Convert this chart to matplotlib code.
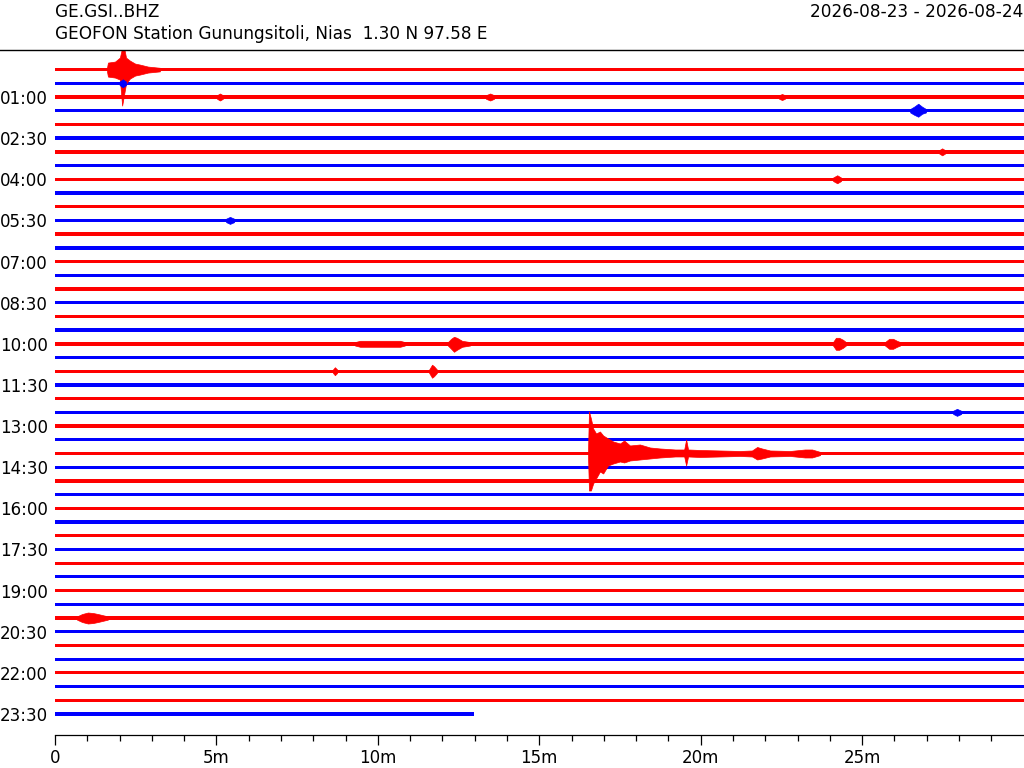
import matplotlib
matplotlib.use("Agg")
import matplotlib.pyplot as plt
from matplotlib.lines import Line2D
from matplotlib.ticker import FixedLocator, FixedFormatter

# ---------------- data ----------------
station = "GE.GSI..BHZ"
station_desc = "GEOFON Station Gunungsitoli, Nias  1.30 N 97.58 E"
date_range = "2026-08-23 - 2026-08-24"

n_rows = 48                 # 30-minute rows over one day
row_minutes = 30
last_row_end_min = 12.97    # data of last row ends here

row_colors = ["red", "blue"]  # alternating trace colours

x_major_ticks = [0, 5, 10, 15, 20, 25]
x_major_labels = ["0", "5m", "10m", "15m", "20m", "25m"]
x_minor_ticks = [1, 2, 3, 4, 6, 7, 8, 9, 11, 12, 13, 14, 16, 17, 18, 19,
                 21, 22, 23, 24, 26, 27, 28, 29]

label_rows = [2, 5, 8, 11, 14, 17, 20, 23, 26, 29, 32, 35, 38, 41, 44, 47]
hour_labels = ["01:00", "02:30", "04:00", "05:30", "07:00", "08:30", "10:00",
               "11:30", "13:00", "14:30", "16:00", "17:30", "19:00", "20:30",
               "22:00", "23:30"]

# background noise half-amplitude per row (pixel-equivalent counts)
noise_level = [1.8, 1.7, 1.8, 1.7, 1.7, 1.7, 1.7, 1.7, 1.7, 1.7, 1.7, 1.7,
               1.7, 1.7, 1.7, 1.7, 1.7, 1.7, 1.7, 1.7, 1.7, 1.7, 1.7, 1.7,
               1.6, 1.6, 1.6, 1.6, 1.6, 1.6, 1.6, 1.6, 1.6, 1.6, 1.6, 1.6,
               1.6, 1.6, 1.6, 1.6, 1.6, 1.6, 1.6, 1.6, 1.6, 1.6, 1.6, 1.6]

# event envelopes: row, times (min), upward and downward amplitudes
event_rows = [0, 1, 2, 2, 2, 3, 6, 8, 11, 20, 20, 20, 20, 22, 22, 25, 28, 40]
event_times = [
    [1.61, 1.64, 1.86, 2.01, 2.08, 2.14, 2.20, 2.32, 2.48, 2.63, 2.88, 3.25],
    [2.00, 2.10, 2.20],
    [5.02, 5.11, 5.20],
    [13.35, 13.48, 13.60],
    [22.43, 22.52, 22.61],
    [26.49, 26.61, 26.74, 26.86, 26.98],
    [27.39, 27.48, 27.57],
    [24.10, 24.23, 24.35],
    [5.30, 5.42, 5.55],
    [9.29, 9.45, 10.07, 10.69, 10.84],
    [12.17, 12.27, 12.36, 12.45, 12.61, 12.86],
    [24.10, 24.19, 24.29, 24.41, 24.50],
    [25.71, 25.84, 25.96, 26.08, 26.18],
    [8.61, 8.67, 8.74],
    [11.59, 11.68, 11.74, 11.83],
    [27.82, 27.94, 28.07],
    [16.51, 16.54, 16.60, 16.67, 16.76, 16.88, 16.98, 17.13, 17.29, 17.50,
     17.63, 17.81, 18.12, 18.43, 18.74, 19.21, 19.49, 19.55, 19.61, 19.98,
     20.60, 21.22, 21.59, 21.75, 21.90, 22.15, 22.77, 23.23, 23.45, 23.70],
    [0.68, 0.84, 1.02, 1.18, 1.33, 1.46, 1.64],
]
event_up = [
    [1.8, 7, 8, 12, 22, 22, 12, 9, 6, 5, 3, 1.8],
    [1.7, 4, 1.7],
    [1.8, 3.5, 1.8],
    [1.8, 3.5, 1.8],
    [1.8, 3, 1.8],
    [1.7, 4, 7, 4, 1.7],
    [1.7, 3.5, 1.7],
    [1.7, 4, 1.7],
    [1.7, 3.5, 1.7],
    [1.7, 3, 3, 3, 1.7],
    [1.7, 5, 7, 6, 3, 1.7],
    [1.7, 6, 6, 4, 1.7],
    [1.7, 5, 5, 3, 1.7],
    [1.7, 4, 1.7],
    [1.7, 6.5, 5, 1.7],
    [1.6, 3.5, 1.6],
    [1.6, 42, 35, 25, 20, 22, 18, 15, 12, 10, 13, 8, 9, 6, 5, 4, 4, 14, 4,
     3.5, 3, 2.5, 3, 6.5, 5, 3, 2.5, 4, 4, 1.6],
    [1.6, 4, 5.5, 5, 4, 3, 1.6],
]
event_down = [
    [1.8, 7, 8, 10, 36, 25, 14, 9, 6, 5, 3, 1.8],
    [1.7, 4, 1.7],
    [1.8, 3.5, 1.8],
    [1.8, 3.5, 1.8],
    [1.8, 3, 1.8],
    [1.7, 4, 6, 3, 1.7],
    [1.7, 3.5, 1.7],
    [1.7, 4, 1.7],
    [1.7, 3.5, 1.7],
    [1.7, 3, 3, 3, 1.7],
    [1.7, 5, 8, 6, 3, 1.7],
    [1.7, 6, 6, 4, 1.7],
    [1.7, 5, 5, 3, 1.7],
    [1.7, 4, 1.7],
    [1.7, 6.5, 5, 1.7],
    [1.6, 3.5, 1.6],
    [1.6, 37, 37, 30, 25, 18, 20, 12, 10, 8, 9, 7, 6, 5, 4, 3, 3, 12, 3,
     3.5, 3, 2.5, 3, 6, 5, 3, 2.5, 4, 4, 1.6],
    [1.6, 4, 5.5, 5, 4, 3, 1.6],
]

# ---------------- figure ----------------
W, H, DPI = 1024, 768, 100
fig = plt.figure(figsize=(W / DPI, H / DPI), dpi=DPI)

ax_left_px, ax_right_px = 55, 1023.5
ax_top_px, ax_bottom_px = 50, 735
ax = fig.add_axes([ax_left_px / W, 1 - ax_bottom_px / H,
                   (ax_right_px - ax_left_px) / W,
                   (ax_bottom_px - ax_top_px) / H])

ROW_PX = 13.711            # pixel spacing between rows
row0_px = 69.58            # centre of first row
y_top = -(row0_px - ax_top_px) / ROW_PX
y_bottom = (ax_bottom_px - row0_px) / ROW_PX

def amp(v):
    return v / ROW_PX

for r in range(n_rows):
    col = row_colors[r % 2]
    end = last_row_end_min if r == n_rows - 1 else row_minutes
    n = amp(noise_level[r])
    ax.fill_between([0, end], [r - n, r - n], [r + n, r + n],
                    color=col, lw=0)

for er, et, eu, ed in zip(event_rows, event_times, event_up, event_down):
    col = row_colors[er % 2]
    lo = [er - amp(u) for u in eu]
    hi = [er + amp(d) for d in ed]
    ax.fill_between(et, lo, hi, color=col, lw=0.5, edgecolor=col)

ax.set_xlim(0, row_minutes)
ax.set_ylim(y_bottom, y_top)

for s in ("left", "right", "top"):
    ax.spines[s].set_visible(False)
ax.spines["bottom"].set_linewidth(0.9)

ax.xaxis.set_major_locator(FixedLocator(x_major_ticks))
ax.xaxis.set_major_formatter(FixedFormatter(x_major_labels))
ax.xaxis.set_minor_locator(FixedLocator(x_minor_ticks))
ax.tick_params(axis="x", which="major", length=7, width=0.9, labelsize=12, pad=3)
ax.tick_params(axis="x", which="minor", length=4.3, width=0.9)

ax.yaxis.set_major_locator(FixedLocator(label_rows))
ax.yaxis.set_major_formatter(FixedFormatter(hour_labels))
ax.tick_params(axis="y", length=0, labelsize=12, pad=5)

fig.text(ax_left_px / W, 1 - 17 / H, station, fontsize=12.2, va="baseline", ha="left")
fig.text(ax_left_px / W, 1 - 39 / H, station_desc, fontsize=12.2, va="baseline", ha="left")
fig.text(1023 / W, 1 - 17 / H, date_range, fontsize=12.2, va="baseline", ha="right")
fig.add_artist(Line2D([0, 1], [1 - 50 / H, 1 - 50 / H], transform=fig.transFigure,
                      color="black", lw=1.0))

fig.savefig("out.png", dpi=DPI)
